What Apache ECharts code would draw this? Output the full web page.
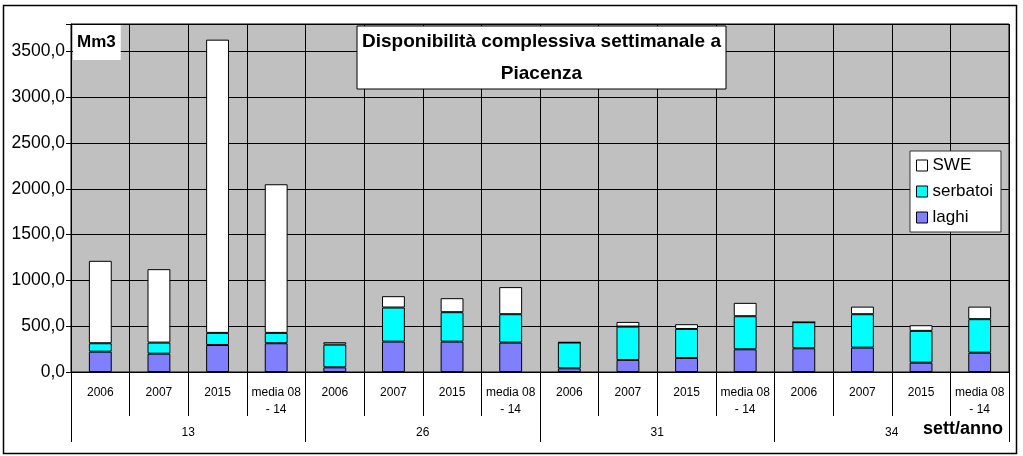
<!DOCTYPE html>
<html>
<head>
<meta charset="utf-8">
<script src="https://cdn.jsdelivr.net/npm/echarts@6/dist/echarts.min.js"></script>
<style>
html,body{margin:0;padding:0;background:#fff;}
#chart{width:1023px;height:456px;}
</style>
</head>
<body>
<div id="chart"></div>
<script>
const years = ['2006','2007','2015','media 08\n- 14','2006','2007','2015','media 08\n- 14','2006','2007','2015','media 08\n- 14','2006','2007','2015','media 08\n- 14'];
const weeks = ['13','26','31','34'];
const laghi    = [222, 200, 295, 314, 51, 332, 332, 321, 40, 131, 153, 248, 259, 266, 102, 211];
const serbatoi = [92, 121, 132, 113, 248, 372, 321, 310, 282, 365, 317, 361, 285, 365, 347, 366];
const swe      = [900, 802, 3202, 1623, 26, 124, 153, 296, 3, 51, 52, 146, 0, 83, 62, 137];

const FONT = 'Liberation Sans, Arial, sans-serif';
const chart = echarts.init(document.getElementById('chart'), null, {renderer:'canvas'});
const barStyle = c => ({color:c, borderColor:'#000', borderWidth:1});

chart.setOption({
  animation:false,
  backgroundColor:'#fff',
  textStyle:{fontFamily:FONT},
  grid:{left:71,top:24,right:14,bottom:84,show:true,backgroundColor:'#c0c0c0',borderColor:'#000',borderWidth:1,containLabel:false},
  legend:{
    data:['SWE','serbatoi','laghi'],
    orient:'vertical',left:910,top:151,icon:'rect',
    backgroundColor:'#fff',borderColor:'#333',borderWidth:1,
    padding:[6,8,6,6],itemWidth:11,itemHeight:11,itemGap:9,
    textStyle:{fontSize:17,fontFamily:FONT,color:'#000'},
    itemStyle:{borderColor:'#000',borderWidth:1}
  },
  xAxis:[
    {type:'category',data:years,position:'bottom',
     axisLine:{show:true,lineStyle:{color:'#000',width:1}},
     axisTick:{show:true,interval:0,length:44,lineStyle:{color:'#000'}},
     axisLabel:{interval:0,margin:12,fontSize:12,lineHeight:17,color:'#000',fontFamily:FONT,align:'center'},
     splitLine:{show:true,interval:0,lineStyle:{color:'#000',width:1}}},
    {type:'category',data:weeks,position:'bottom',
     axisLine:{show:false},
     axisTick:{show:true,interval:0,length:70,lineStyle:{color:'#000'}},
     axisLabel:{interval:0,margin:55,fontSize:12,color:'#000',fontFamily:FONT},
     splitLine:{show:false}}
  ],
  yAxis:{type:'value',min:0,max:3800,interval:500,
    axisLine:{show:true,lineStyle:{color:'#000'}},
    axisTick:{show:true,length:5,lineStyle:{color:'#000'}},
    axisLabel:{fontSize:17.5,color:'#000',margin:6,fontFamily:FONT,
      formatter:v=> (v%500===0 ? v.toFixed(1).replace('.',',') : '')},
    splitLine:{show:true,lineStyle:{color:'#000',width:1}}},
  series:[
    {name:'laghi',type:'bar',stack:'t',data:laghi,barWidth:'39%',itemStyle:barStyle('#8080ff')},
    {name:'serbatoi',type:'bar',stack:'t',data:serbatoi,barWidth:'39%',itemStyle:barStyle('#00ffff')},
    {name:'SWE',type:'bar',stack:'t',data:swe,barWidth:'39%',itemStyle:barStyle('#ffffff')}
  ],
  graphic:[
    {type:'rect',left:1,top:3,shape:{width:1013,height:448},style:{fill:null,stroke:'#000',lineWidth:1.5},silent:true,z:-1},
    {type:'text',left:73,top:25,style:{text:'Mm3',font:'bold 17px '+FONT,fill:'#000',backgroundColor:'#fff',padding:[9,5,9,4]},z:100},
    {type:'rect',shape:{x:357,y:26,width:369,height:63},style:{fill:'#fff',stroke:'#000',lineWidth:1},z:100},
    {type:'text',x:541.5,y:57.5,style:{text:'Disponibilità complessiva settimanale a\nPiacenza',font:'bold 19px '+FONT,fill:'#000',align:'center',verticalAlign:'middle',lineHeight:32},z:101},
    {type:'text',left:923,top:420,style:{text:'sett/anno',font:'bold 18px '+FONT,fill:'#000'},z:100}
  ]
});
</script>
</body>
</html>
